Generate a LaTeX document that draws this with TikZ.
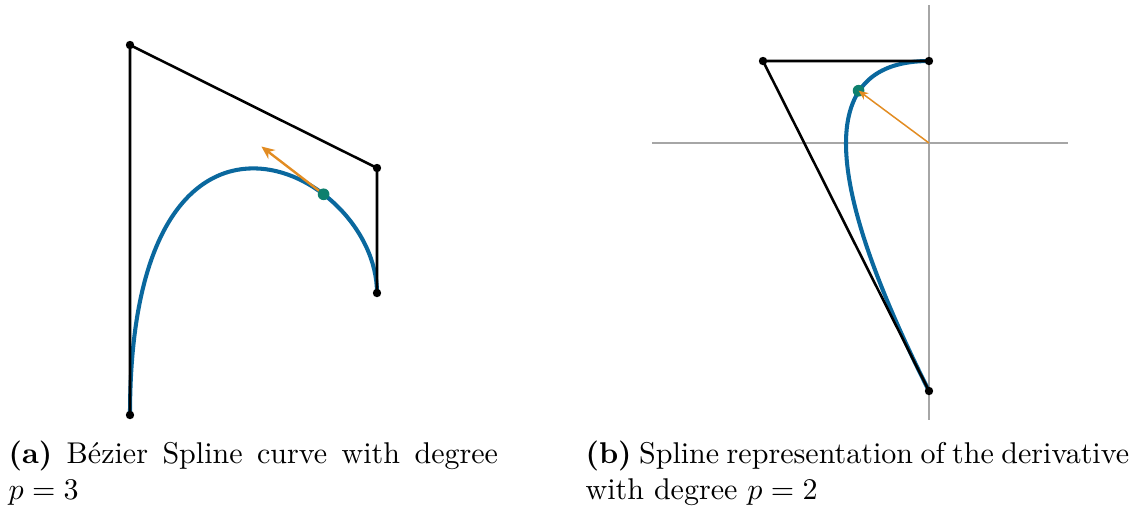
\documentclass[tikz,border=0pt]{standalone}
\usepackage{amsmath,amssymb}
\usepackage{xcolor}
\usepackage{tikz}
\usetikzlibrary{arrows.meta,positioning,calc}

\definecolor{splineblue}{RGB}{10,104,158}
\definecolor{pointgreen}{RGB}{14,128,110}
\definecolor{derivorange}{RGB}{226,140,34}

\begin{document}
\begin{tikzpicture}[x=0.333pt,y=-0.333pt,
  polygon/.style={black,line width=0.85pt},
  spline/.style={splineblue,line width=1.35pt},
  axis/.style={black!35,line width=0.45pt},
  caption/.style={anchor=north west,inner sep=0pt,align=justify}]
\useasboundingbox (0,0) rectangle (1141,508);
% control points of the cubic
\coordinate (p0) at (130,415);
\coordinate (p1) at (130,45);
\coordinate (p2) at (377,168);
\coordinate (p3) at (377,293);
\coordinate (pt) at (323.6,194.3);
\coordinate (tip) at (261.4,146.5);
\draw[spline] (p0) .. controls (p1) and (p2) .. (p3);
\draw[polygon] (p0) -- (p1) -- (p2) -- (p3);
\foreach \p in {p0,p1,p2,p3} \fill (\p) circle (1.4pt);
\draw[derivorange,line width=0.8pt,-{Stealth[length=4.4pt,width=3.8pt]}] (pt) -- (tip);
\fill[pointgreen] (pt) circle (1.95pt);
% derivative (hodograph), degree 2
\coordinate (o) at (929,143);
\coordinate (axl) at (652,143);
\coordinate (axr) at (1068,143);
\coordinate (axt) at (929,5);
\coordinate (axb) at (929,420);
\draw[axis] (axl) -- (axr);
\draw[axis] (axt) -- (axb);
\coordinate (q0) at (929,391);
\coordinate (q1) at (763,61);
\coordinate (q2) at (929,61);
\coordinate (qt) at (858.6,90.7);
\draw[spline] (q0) .. controls ($(q0)!2/3!(q1)$) and ($(q2)!2/3!(q1)$) .. (q2);
\draw[polygon] (q0) -- (q1) -- (q2);
\foreach \p in {q0,q1,q2} \fill (\p) circle (1.4pt);
\fill[pointgreen] (qt) circle (1.95pt);
\draw[derivorange,line width=0.5pt,-{Stealth[length=3.2pt,width=2.7pt]}] (o) -- (qt);
% captions
\node[caption,text width=163pt] (capa) at (8,440) {\textbf{(a)} B\'ezier Spline curve with degree $p=3$};
\node[caption,text width=181pt] (capb) at (585,440) {\textbf{(b)} Spline representation of the \mbox{derivative} with degree $p=2$};
\end{tikzpicture}
\end{document}
